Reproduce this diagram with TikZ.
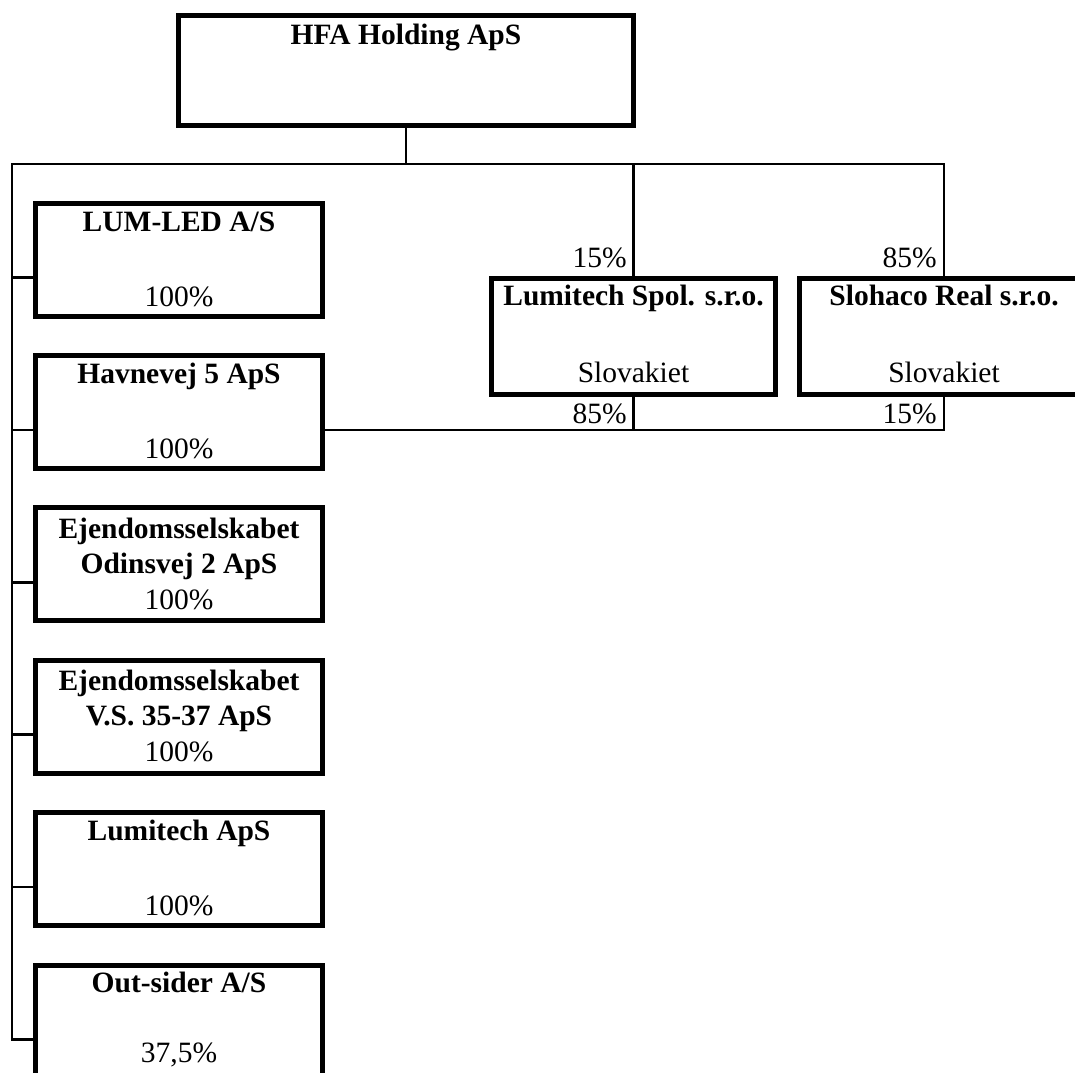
\documentclass[tikz,border=0pt]{standalone}
\usepackage{fontspec}
\setmainfont{Liberation Serif}
\begin{document}
\begin{tikzpicture}[x=1pt,y=-1pt,
  box/.style={draw=black,line width=5pt,rectangle,inner sep=0pt,fill=white},
  colbox/.style={box,minimum width=287pt,minimum height=113pt},
  conn/.style={draw=black,line width=2.5pt,line join=miter},
  bname/.style={font=\fontsize{29.5}{33}\selectfont\bfseries,inner sep=0pt,anchor=base},
  rtext/.style={font=\fontsize{29.5}{33}\selectfont,inner sep=0pt,anchor=base},
  pct/.style={font=\fontsize{29.5}{33}\selectfont,inner sep=0pt,anchor=base east}]
\useasboundingbox (0,0) rectangle (1075,1072);
% boxes
\node[box,minimum width=455pt,minimum height=110pt] (hfa) at (406,70.5) {};
\node[colbox] (lum) at (179,259.5) {};
\node[colbox] (hav) at (179,411.9) {};
\node[colbox] (odin) at (179,564.3) {};
\node[colbox] (vs) at (179,716.7) {};
\node[colbox] (lapS) at (179,869.1) {};
\node[colbox] (out) at (179,1021.5) {};
\node[box,minimum width=284pt,minimum height=116pt] (spol) at (633.5,336.5) {};
\node[box,minimum width=290pt,minimum height=116pt] (sloh) at (944,336.5) {};
% coordinates
\coordinate (busL) at (12,164);
\coordinate (c1) at ([yshift=-18pt]lum.west);
\coordinate (c2) at ([yshift=-18pt]hav.west);
\coordinate (c2e) at ([yshift=-18pt]hav.east);
\coordinate (c3) at ([yshift=-18pt]odin.west);
\coordinate (c4) at ([yshift=-18pt]vs.west);
\coordinate (c5) at ([yshift=-18pt]lapS.west);
\coordinate (c6) at ([yshift=-18pt]out.west);
% connectors
\draw[conn] (hfa.south) -- (hfa.south |- busL);
\draw[conn] (sloh.north) |- (busL) |- (c6);
\draw[conn] (spol.north) -- (spol.north |- busL);
\draw[conn] (c1 -| busL) -- (c1);
\draw[conn] (c2 -| busL) -- (c2);
\draw[conn] (c3 -| busL) -- (c3);
\draw[conn] (c4 -| busL) -- (c4);
\draw[conn] (c5 -| busL) -- (c5);
\draw[conn] (c2e) -| (sloh.south);
\draw[conn] (spol.south) -- (spol.south |- c2e);
% texts
\node[bname] (thfa) at (406,44) {HFA Holding ApS};
\node[bname] (tlum) at (179,231) {LUM-LED A/S};
\node[rtext] (plum) at (179,306) {100\%};
\node[bname] (thav) at (179,383.4) {Havnevej 5 ApS};
\node[rtext] (phav) at (179,458.4) {100\%};
\node[bname] (todin1) at (179,538) {Ejendomsselskabet};
\node[bname] (todin2) at (179,573) {Odinsvej 2 ApS};
\node[rtext] (podin) at (179,609) {100\%};
\node[bname] (tvs1) at (179,690.2) {Ejendomsselskabet};
\node[bname] (tvs2) at (179,725.2) {V.S. 35-37 ApS};
\node[rtext] (pvs) at (179,761.2) {100\%};
\node[bname] (tlap) at (179,840.6) {Lumitech ApS};
\node[rtext] (plap) at (179,915.6) {100\%};
\node[bname] (tout) at (179,992) {Out-sider A/S};
\node[rtext] (pout) at (179,1062) {37,5\%};
\node[bname] (tspol) at (633.5,305) {Lumitech Spol. s.r.o.};
\node[rtext] (sspol) at (633.5,382) {Slovakiet};
\node[bname] (tsloh) at (944,305) {Slohaco Real s.r.o.};
\node[rtext] (ssloh) at (944,382) {Slovakiet};
% percentages on connectors
\node[pct] (p15a) at (627,267) {15\%};
\node[pct] (p85a) at (937,267) {85\%};
\node[pct] (p85b) at (627,423) {85\%};
\node[pct] (p15b) at (937,423) {15\%};
\end{tikzpicture}
\end{document}
